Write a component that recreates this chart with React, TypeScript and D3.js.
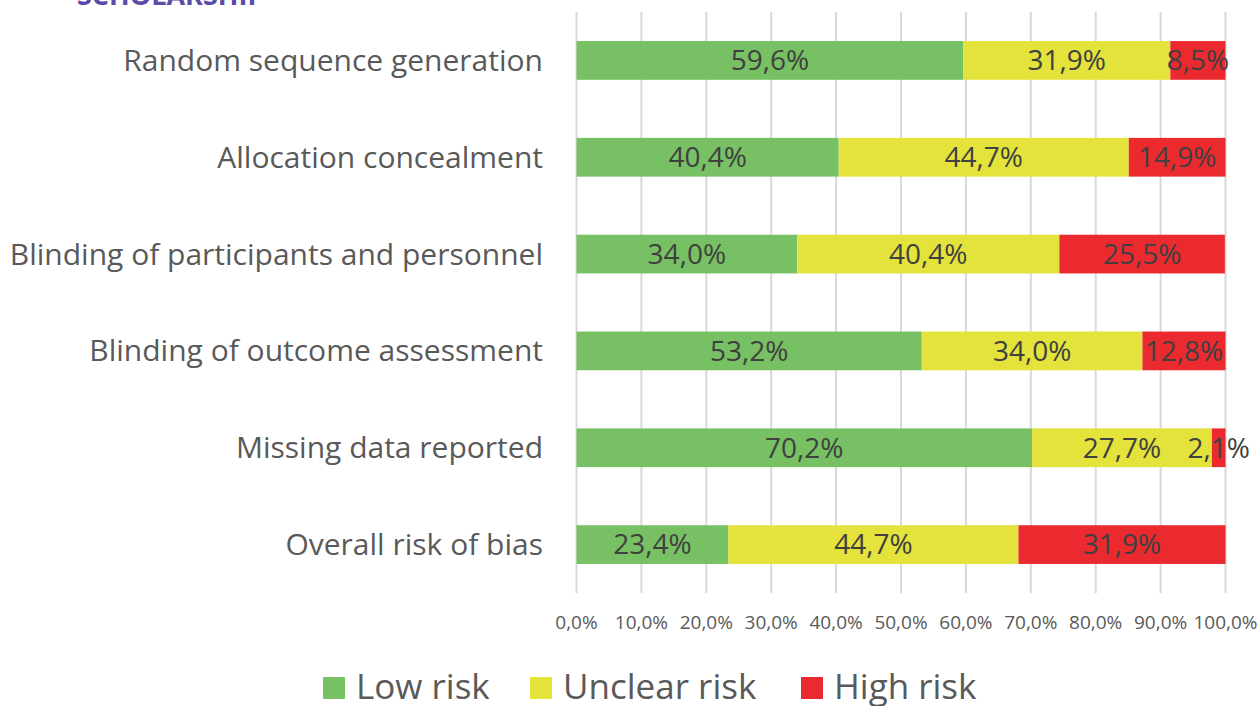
import { useEffect, useRef } from 'react';
import * as d3 from 'd3';

const categories = [
  'Random sequence generation',
  'Allocation concealment',
  'Blinding of participants and personnel',
  'Blinding of outcome assessment',
  'Missing data reported',
  'Overall risk of bias',
];
const lowRisk = [59.6, 40.4, 34.0, 53.2, 70.2, 23.4];
const unclearRisk = [31.9, 44.7, 40.4, 34.0, 27.7, 44.7];
const highRisk = [8.5, 14.9, 25.5, 12.8, 2.1, 31.9];
const seriesNames = ['Low risk', 'Unclear risk', 'High risk'];
const seriesColors = ['#77c063', '#e3e33b', '#ea2a2f'];
const ticks = [0, 10, 20, 30, 40, 50, 60, 70, 80, 90, 100];

const WIDTH = 1260;
const HEIGHT = 706;
const FONT = '"Open Sans", sans-serif';

const fmt = (v: number) => v.toFixed(1).replace('.', ',') + '%';

const App = () => {
  const svgRef = useRef<SVGSVGElement>(null);

  useEffect(() => {
    if (!svgRef.current) return;
    const svg = d3.select(svgRef.current);
    svg.selectAll('*').remove();

    const x = d3.scaleLinear().domain([0, 100]).range([576.5, 1225.5]);
    const y = d3.scaleBand<string>()
      .domain(categories)
      .range([12, 593])
      .paddingInner(0.6)
      .paddingOuter(0.3);

    // heading, mostly cut off by the top edge
    svg.append('text')
      .attr('x', 77)
      .attr('y', 5)
      .attr('font-family', FONT)
      .attr('font-weight', 'bold')
      .attr('font-size', 27)
      .attr('fill', '#5b4ba8')
      .text('SCHOLARSHIP');

    // grid lines
    svg.append('g')
      .selectAll('line')
      .data(ticks)
      .join('line')
      .attr('x1', d => x(d))
      .attr('x2', d => x(d))
      .attr('y1', 12)
      .attr('y2', 593)
      .attr('stroke', '#d9d9d9')
      .attr('stroke-width', 2);

    // tick labels
    svg.append('g')
      .selectAll('text')
      .data(ticks)
      .join('text')
      .attr('x', d => x(d))
      .attr('y', 629)
      .attr('text-anchor', 'middle')
      .attr('font-family', FONT)
      .attr('font-size', 19)
      .attr('fill', '#595959')
      .text(d => fmt(d));

    // stacked bars
    const rows = categories.map((c, i) => ({
      category: c,
      'Low risk': lowRisk[i],
      'Unclear risk': unclearRisk[i],
      'High risk': highRisk[i],
    }));
    const stacked = d3.stack<any>().keys(seriesNames)(rows);

    const groups = svg.append('g')
      .selectAll('g')
      .data(stacked)
      .join('g')
      .attr('fill', (_, i) => seriesColors[i]);

    groups.selectAll('rect')
      .data(d => d)
      .join('rect')
      .attr('x', d => x(d[0]))
      .attr('width', d => x(d[1]) - x(d[0]))
      .attr('y', d => y(d.data.category)!)
      .attr('height', y.bandwidth());

    // value labels
    const labels = svg.append('g');
    stacked.forEach(s => {
      s.forEach(d => {
        labels.append('text')
          .attr('x', (x(d[0]) + x(d[1])) / 2)
          .attr('y', y(d.data.category)! + y.bandwidth() / 2)
          .attr('dy', '0.35em')
          .attr('text-anchor', 'middle')
          .attr('font-family', FONT)
          .attr('font-size', 28)
          .attr('fill', '#404040')
          .text(fmt(d[1] - d[0]));
      });
    });

    // category labels
    svg.append('g')
      .selectAll('text')
      .data(categories)
      .join('text')
      .attr('x', 543)
      .attr('y', d => y(d)! + y.bandwidth() / 2)
      .attr('dy', '0.35em')
      .attr('text-anchor', 'end')
      .attr('font-family', FONT)
      .attr('font-size', 30)
      .attr('fill', '#595959')
      .text(d => d);

    // legend
    const legendX = [323, 530, 801];
    const legend = svg.append('g')
      .selectAll('g')
      .data(seriesNames)
      .join('g')
      .attr('transform', (_, i) => `translate(${legendX[i]},0)`);
    legend.append('rect')
      .attr('x', 0)
      .attr('y', 677)
      .attr('width', 22)
      .attr('height', 22)
      .attr('fill', (_, i) => seriesColors[i]);
    legend.append('text')
      .attr('x', 33)
      .attr('y', 699)
      .attr('font-family', FONT)
      .attr('font-size', 35)
      .attr('fill', '#595959')
      .text(d => d);
  }, []);

  return (
    <svg
      ref={svgRef}
      width={WIDTH}
      height={HEIGHT}
      style={{ position: 'absolute', left: 0, top: 0, background: '#fff' }}
    />
  );
};

export default App;
